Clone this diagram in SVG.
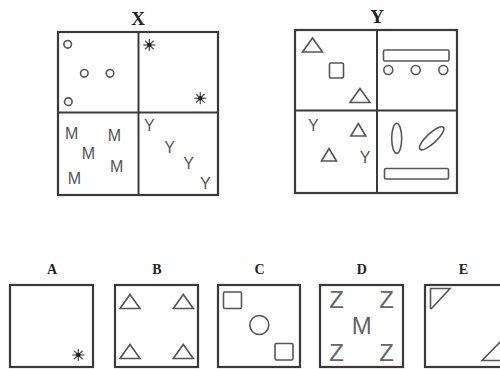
<svg xmlns="http://www.w3.org/2000/svg" width="500" height="369" viewBox="0 0 500 369">
<style>
.box{fill:none;stroke:#3a3a3a;stroke-width:2.2}
.div{stroke:#3a3a3a;stroke-width:2}
.sh{fill:none;stroke:#555;stroke-width:1.6}
.lbl{font-family:"Liberation Serif",serif;font-weight:bold;fill:#222;text-anchor:middle}
.ltr{font-family:"Liberation Sans",sans-serif;fill:#555;text-anchor:middle;dominant-baseline:central}
.thin{fill:#666}
.star line{stroke:#555;stroke-width:1.3}
</style>
<defs>
<g id="star" class="star">
<line x1="-6" y1="0" x2="6" y2="0"/>
<line x1="0" y1="-6" x2="0" y2="6"/>
<line x1="-4.3" y1="-4.3" x2="4.3" y2="4.3"/>
<line x1="-4.3" y1="4.3" x2="4.3" y2="-4.3"/>
<circle r="2.2" fill="#222"/>
</g>
<polygon id="tri" points="0,-7 10,7 -10,7" class="sh"/>
<polygon id="tris" points="0,-6.5 7.5,6 -7.5,6" class="sh"/>
</defs>

<g id="X">
<text class="lbl" x="138" y="25" font-size="19">X</text>
<rect class="box" x="58" y="32" width="160" height="163"/>
<line class="div" x1="138.5" y1="32" x2="138.5" y2="195"/>
<line class="div" x1="58" y1="112.5" x2="218" y2="112.5"/>
<g class="sh">
<circle cx="67.7" cy="44.3" r="3.8"/>
<circle cx="84.3" cy="73.3" r="3.8"/>
<circle cx="110" cy="73.3" r="3.8"/>
<circle cx="68.3" cy="101.7" r="3.8"/>
</g>
<use href="#star" x="149.3" y="45"/>
<use href="#star" x="200.3" y="98.3"/>
<g class="ltr" font-size="16">
<text x="71.7" y="133">M</text>
<text x="114.3" y="135">M</text>
<text x="88.3" y="153">M</text>
<text x="116.7" y="166">M</text>
<text x="74.3" y="178.5">M</text>
<text x="149.3" y="125">Y</text>
<text x="169.7" y="147">Y</text>
<text x="188.7" y="163.5">Y</text>
<text x="205.3" y="183.5">Y</text>
</g>
</g>

<g id="Y">
<text class="lbl" x="377" y="23" font-size="19">Y</text>
<rect class="box" x="295" y="30" width="162" height="163"/>
<line class="div" x1="377" y1="30" x2="377" y2="193"/>
<line class="div" x1="295" y1="110.5" x2="457" y2="110.5"/>
<use href="#tri" x="312.5" y="45"/>
<rect class="sh" x="329.5" y="63" width="14" height="15" rx="1.5"/>
<use href="#tri" x="360" y="95.5"/>
<rect class="sh" x="383.5" y="50" width="65.5" height="11" rx="1.5"/>
<g class="sh">
<circle cx="388.3" cy="70" r="4.5"/>
<circle cx="415.7" cy="70" r="4.5"/>
<circle cx="443.3" cy="70" r="4.5"/>
</g>
<g class="ltr" font-size="16">
<text x="313.3" y="125">Y</text>
<text x="365" y="157">Y</text>
</g>
<use href="#tris" x="358.3" y="130"/>
<use href="#tris" x="329" y="155"/>
<ellipse class="sh" cx="396.7" cy="138.3" rx="5" ry="15"/>
<ellipse class="sh" cx="431.7" cy="138.3" rx="16" ry="5" transform="rotate(-43 431.7 138.3)"/>
<rect class="sh" x="384.5" y="168.5" width="64" height="10.5" rx="1.5"/>
</g>

<g id="A">
<text class="lbl" x="52" y="273.5" font-size="14">A</text>
<rect class="box" x="10" y="285" width="83" height="82"/>
<use href="#star" x="78.3" y="355"/>
</g>

<g id="B">
<text class="lbl" x="157" y="273.5" font-size="14">B</text>
<rect class="box" x="115" y="285" width="83" height="82"/>
<use href="#tri" x="130" y="301.5"/>
<use href="#tri" x="183.3" y="301.5"/>
<use href="#tri" x="130" y="351.5"/>
<use href="#tri" x="183.3" y="351.5"/>
</g>

<g id="C">
<text class="lbl" x="259.5" y="273.5" font-size="14">C</text>
<rect class="box" x="218" y="285" width="82" height="82"/>
<rect class="sh" x="223.5" y="292" width="18" height="16.5" rx="1.5"/>
<circle class="sh" cx="259.3" cy="325" r="9.5"/>
<rect class="sh" x="275" y="343.5" width="18" height="16.5" rx="1.5"/>
</g>

<g id="D">
<text class="lbl" x="361.7" y="273.5" font-size="14">D</text>
<rect class="box" x="320" y="285" width="83" height="82"/>
<g class="ltr thin" font-size="24">
<text x="336.7" y="299">Z</text>
<text x="386.7" y="299">Z</text>
<text x="361.7" y="325.5">M</text>
<text x="336.7" y="352">Z</text>
<text x="386.7" y="352">Z</text>
</g>
</g>

<g id="E">
<text class="lbl" x="463.5" y="273.5" font-size="14">E</text>
<rect class="box" x="425" y="285" width="83" height="82"/>
<polygon class="sh" points="430.5,288.5 450,288.5 431.5,308.5 430.5,308.5"/>
<polygon class="sh" points="482,360.5 503,360.5 503,339"/>
</g>
</svg>
